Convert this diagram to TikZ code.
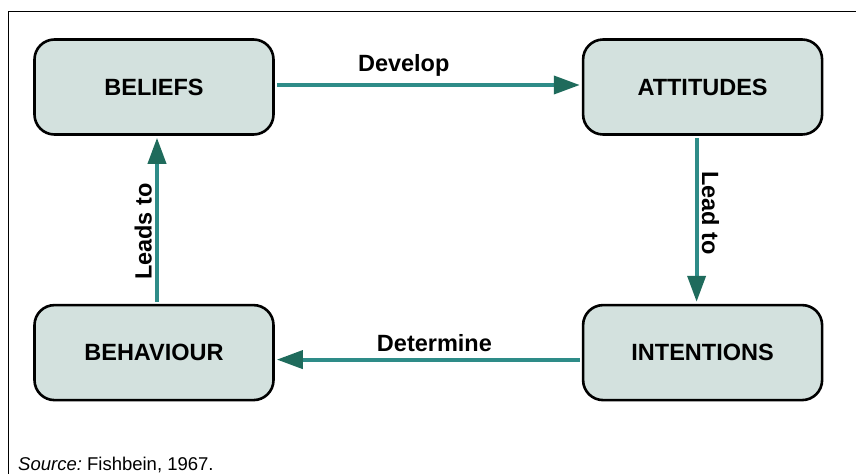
\documentclass[tikz,border=0pt]{standalone}
\usepackage{fontspec}
\setmainfont{Liberation Sans}
\usetikzlibrary{shapes,arrows.meta,positioning}
\definecolor{boxfill}{HTML}{D3E1DE}
\definecolor{linkteal}{HTML}{2E8C88}
\definecolor{tipgreen}{HTML}{1F6B5C}

\begin{document}
\begin{tikzpicture}[x=1pt,y=-1pt,% one unit = one pixel of the figure, y runs down
			every node/.style={
				align=center,
				font=\bfseries\fontsize{23.5}{27}\selectfont
			},
			box/.style={rectangle,rounded corners=20pt,draw=black,line width=2.6pt,
				fill=boxfill,minimum width=239pt,minimum height=95pt},
			every edge/.style={draw=linkteal,line width=3.8pt,shorten <=2pt,shorten >=2pt,
				-{Triangle[length=26pt,width=18pt,color=tipgreen]}}
		]
		\useasboundingbox (0,0) rectangle (856,474);
		\draw[line width=0.8pt] (856,11) -- (8,11) -- (8,474); % frame
		\node[box](R1) at (154,87){BELIEFS};
		\node[box](R2)[right=307pt of R1]{ATTITUDES};
		\node[box](R3)[below=168pt of R1]{BEHAVIOUR};
		\node[box](R4)[below=168pt of R2]{INTENTIONS};
		\path
		([yshift=2pt]R1.east)edge []	node [pos=.42,above=3pt] {Develop} ([yshift=2pt]R2.west)
		([xshift=-6pt]R2.south)edge []	node [pos=.46,rotate=-90,anchor=south] {Lead to} ([xshift=-6pt]R4.north)
		([yshift=-7pt]R4.west)edge []	node [pos=.48,above=3pt] {Determine} ([yshift=-7pt]R3.east)
		([xshift=3pt]R3.north)edge []	node [pos=.43,rotate=90,anchor=south] {Leads to} ([xshift=3pt]R1.south)
		;
		\node[font=\fontsize{18.5}{22}\selectfont,inner sep=0pt,anchor=base west](src) at (18,470) {\textit{Source:}~Fishbein, 1967.};
	\end{tikzpicture}
\end{document}
